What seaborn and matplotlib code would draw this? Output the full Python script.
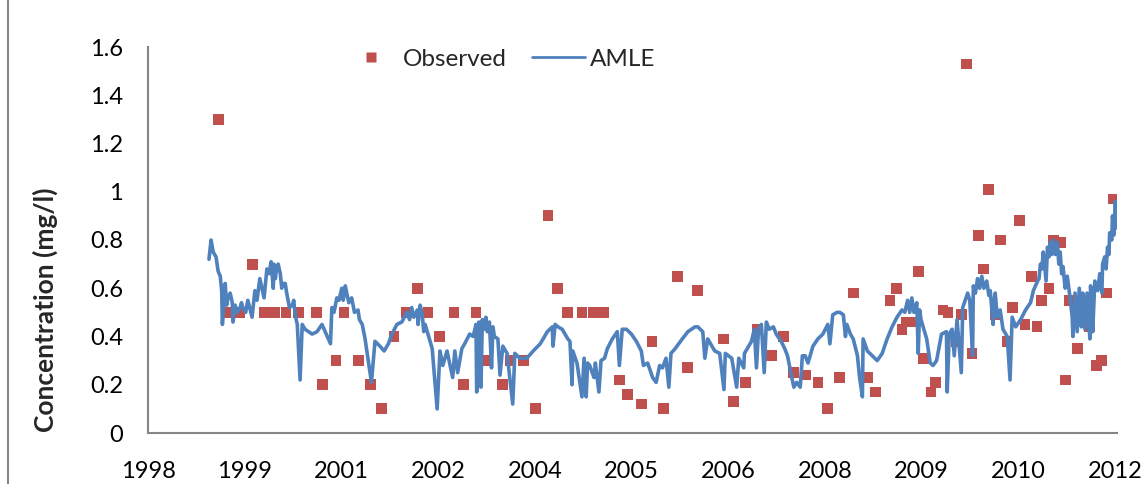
import matplotlib
matplotlib.use("Agg")
import matplotlib.pyplot as plt
from matplotlib.lines import Line2D
import seaborn as sns
import pandas as pd

# Sampling times in decimal years and measured concentrations (mg/l)
obs_year = [
    1999.53, 1999.66, 1999.84, 2000.02, 2000.18, 2000.33, 2000.49, 2000.67, 2000.92, 2001.01,
    2001.20, 2001.31, 2001.52, 2001.69, 2001.84, 2002.02, 2002.20, 2002.35, 2002.50, 2002.66,
    2002.87, 2003.00, 2003.18, 2003.32, 2003.55, 2003.66, 2003.85, 2004.02, 2004.20, 2004.33,
    2004.48, 2004.68, 2004.84, 2004.99, 2005.21, 2005.33, 2005.52, 2005.67, 2005.83, 2006.03,
    2006.17, 2006.32, 2006.68, 2006.83, 2007.00, 2007.16, 2007.36, 2007.53, 2007.67, 2007.85,
    2008.02, 2008.16, 2008.33, 2008.52, 2008.72, 2008.84, 2009.04, 2009.13, 2009.21, 2009.27,
    2009.35, 2009.44, 2009.52, 2009.62, 2009.69, 2009.79, 2009.86, 2009.98, 2010.05, 2010.12,
    2010.20, 2010.29, 2010.36, 2010.44, 2010.53, 2010.61, 2010.70, 2010.78, 2010.87, 2010.95,
    2011.04, 2011.12, 2011.19, 2011.29, 2011.36, 2011.45, 2011.53, 2011.58, 2011.70, 2011.86,
    2011.96, 2012.03, 2012.11, 2012.20,
]
obs_conc = [
    1.30, 0.50, 0.50, 0.70, 0.50, 0.50, 0.50, 0.50, 0.50, 0.20,
    0.30, 0.50, 0.30, 0.20, 0.10, 0.40, 0.50, 0.60, 0.50, 0.40,
    0.50, 0.20, 0.50, 0.30, 0.20, 0.30, 0.30, 0.10, 0.90, 0.60,
    0.50, 0.50, 0.50, 0.50, 0.22, 0.16, 0.12, 0.38, 0.10, 0.65,
    0.27, 0.59, 0.39, 0.13, 0.21, 0.43, 0.32, 0.40, 0.25, 0.24,
    0.21, 0.10, 0.23, 0.58, 0.23, 0.17, 0.55, 0.60, 0.43, 0.46,
    0.46, 0.67, 0.31, 0.17, 0.21, 0.51, 0.50, 0.38, 0.49, 1.53,
    0.33, 0.82, 0.68, 1.01, 0.49, 0.80, 0.38, 0.52, 0.88, 0.45,
    0.65, 0.44, 0.55, 0.60, 0.80, 0.79, 0.22, 0.55, 0.35, 0.44,
    0.28, 0.30, 0.58, 0.97,
]

# AMLE daily estimate (mg/l): main trace with its downward spikes
amle_year = [
    1999.40, 1999.43, 1999.46, 1999.50, 1999.53, 1999.56, 1999.58, 1999.59, 1999.63, 1999.67,
    1999.73, 1999.74, 1999.77, 1999.84, 1999.88, 1999.95, 2000.01, 2000.05, 2000.12, 2000.18,
    2000.22, 2000.28, 2000.31, 2000.32, 2000.36, 2000.41, 2000.45, 2000.50, 2000.58, 2000.62,
    2000.65, 2000.69, 2000.72, 2000.76, 2000.86, 2000.93, 2001.00, 2001.12, 2001.14, 2001.21,
    2001.28, 2001.35, 2001.42, 2001.51, 2001.57, 2001.61, 2001.70, 2001.75, 2001.82, 2001.88,
    2001.94, 2001.99, 2002.06, 2002.13, 2002.20, 2002.27, 2002.35, 2002.36, 2002.42, 2002.46,
    2002.50, 2002.56, 2002.63, 2002.67, 2002.71, 2002.77, 2002.85, 2002.88, 2002.92, 2002.98,
    2003.02, 2003.09, 2003.18, 2003.19, 2003.22, 2003.25, 2003.27, 2003.32, 2003.37, 2003.40,
    2003.42, 2003.49, 2003.52, 2003.56, 2003.62, 2003.70, 2003.73, 2003.80, 2003.90, 2003.99,
    2004.09, 2004.19, 2004.26, 2004.27, 2004.30, 2004.34, 2004.40, 2004.48, 2004.51, 2004.54,
    2004.55, 2004.61, 2004.68, 2004.71, 2004.74, 2004.76, 2004.79, 2004.85, 2004.87, 2004.92,
    2004.95, 2005.00, 2005.04, 2005.11, 2005.18, 2005.21, 2005.25, 2005.31, 2005.38, 2005.45,
    2005.52, 2005.55, 2005.61, 2005.68, 2005.73, 2005.78, 2005.82, 2005.87, 2005.91, 2005.94,
    2006.00, 2006.10, 2006.18, 2006.28, 2006.32, 2006.39, 2006.42, 2006.46, 2006.52, 2006.56,
    2006.63, 2006.69, 2006.71, 2006.80, 2006.87, 2006.90, 2006.97, 2006.98, 2007.08, 2007.12,
    2007.15, 2007.18, 2007.22, 2007.26, 2007.29, 2007.33, 2007.39, 2007.43, 2007.50, 2007.55,
    2007.59, 2007.65, 2007.68, 2007.72, 2007.77, 2007.80, 2007.84, 2007.88, 2007.95, 2008.02,
    2008.09, 2008.16, 2008.19, 2008.23, 2008.29, 2008.33, 2008.38, 2008.41, 2008.43, 2008.48,
    2008.52, 2008.58, 2008.61, 2008.65, 2008.66, 2008.72, 2008.79, 2008.86, 2008.93, 2009.00,
    2009.07, 2009.14, 2009.21, 2009.29, 2009.35, 2009.42, 2009.44, 2009.46, 2009.51, 2009.56,
    2009.61, 2009.65, 2009.70, 2009.77, 2009.84, 2009.85, 2009.88, 2009.92, 2009.95, 2009.99,
    2010.05, 2010.07, 2010.14, 2010.21, 2010.22, 2010.28, 2010.34, 2010.41, 2010.46, 2010.50,
    2010.51, 2010.56, 2010.60, 2010.64, 2010.70, 2010.74, 2010.77, 2010.82, 2010.89, 2010.96,
    2011.03, 2011.07, 2011.13, 2011.17, 2011.21, 2011.25, 2011.27, 2011.31, 2011.35, 2011.41,
    2011.45, 2011.49, 2011.55, 2011.59, 2011.62, 2011.63, 2011.66, 2011.69, 2011.72, 2011.75,
    2011.77, 2011.80, 2011.83, 2011.87, 2011.88, 2011.91, 2011.94, 2012.01, 2012.04, 2012.05,
    2012.08, 2012.12, 2012.15, 2012.18, 2012.19, 2012.23, 2012.25,
]
amle_conc = [
    0.72, 0.80, 0.75, 0.73, 0.67, 0.65, 0.59, 0.45, 0.62, 0.56,
    0.54, 0.46, 0.53, 0.52, 0.52, 0.55, 0.48, 0.59, 0.64, 0.56,
    0.68, 0.71, 0.60, 0.70, 0.69, 0.66, 0.62, 0.58, 0.53, 0.49,
    0.45, 0.22, 0.45, 0.43, 0.41, 0.42, 0.45, 0.37, 0.52, 0.56,
    0.60, 0.58, 0.56, 0.51, 0.45, 0.39, 0.21, 0.38, 0.36, 0.34,
    0.37, 0.41, 0.45, 0.46, 0.50, 0.52, 0.51, 0.45, 0.49, 0.45,
    0.41, 0.35, 0.10, 0.34, 0.28, 0.34, 0.23, 0.34, 0.25, 0.35,
    0.37, 0.41, 0.45, 0.17, 0.46, 0.19, 0.47, 0.48, 0.46, 0.27,
    0.44, 0.39, 0.24, 0.36, 0.33, 0.12, 0.33, 0.31, 0.31, 0.34,
    0.37, 0.42, 0.44, 0.36, 0.45, 0.44, 0.43, 0.39, 0.38, 0.20,
    0.34, 0.29, 0.15, 0.31, 0.15, 0.29, 0.28, 0.23, 0.29, 0.17,
    0.30, 0.31, 0.35, 0.39, 0.42, 0.28, 0.43, 0.43, 0.41, 0.38,
    0.34, 0.28, 0.29, 0.23, 0.21, 0.28, 0.27, 0.31, 0.19, 0.33,
    0.35, 0.39, 0.42, 0.44, 0.44, 0.42, 0.31, 0.39, 0.36, 0.34,
    0.33, 0.18, 0.33, 0.31, 0.19, 0.31, 0.27, 0.33, 0.38, 0.43,
    0.27, 0.43, 0.45, 0.25, 0.46, 0.43, 0.44, 0.41, 0.38, 0.35,
    0.32, 0.23, 0.19, 0.21, 0.19, 0.32, 0.32, 0.29, 0.36, 0.39,
    0.41, 0.45, 0.37, 0.49, 0.50, 0.50, 0.49, 0.40, 0.45, 0.41,
    0.39, 0.32, 0.23, 0.15, 0.39, 0.34, 0.32, 0.30, 0.33, 0.39,
    0.44, 0.48, 0.51, 0.55, 0.56, 0.54, 0.33, 0.51, 0.44, 0.39,
    0.29, 0.28, 0.30, 0.41, 0.42, 0.17, 0.41, 0.43, 0.32, 0.47,
    0.25, 0.52, 0.58, 0.32, 0.61, 0.64, 0.65, 0.63, 0.59, 0.45,
    0.54, 0.48, 0.51, 0.43, 0.40, 0.22, 0.48, 0.44, 0.47, 0.51,
    0.54, 0.59, 0.63, 0.70, 0.75, 0.63, 0.77, 0.79, 0.80, 0.79,
    0.75, 0.69, 0.65, 0.56, 0.48, 0.40, 0.58, 0.42, 0.60, 0.44,
    0.58, 0.43, 0.58, 0.39, 0.61, 0.42, 0.63, 0.66, 0.58, 0.70,
    0.73, 0.77, 0.83, 0.80, 0.90, 0.96, 0.85,
]

# AMLE day-to-day scatter: lower edge of the band around the seasonal peaks
band_year = [
    1999.65, 1999.70, 1999.80, 1999.86, 1999.92,
    2000.08, 2000.15, 2000.25, 2000.34, 2000.38, 2000.43, 2000.48, 2000.54, 2000.60,
    2001.17, 2001.24, 2001.30, 2001.33, 2001.38, 2001.46, 2001.53,
    2002.24, 2002.30, 2002.39, 2002.44,
    2003.14, 2003.29, 2003.34, 2003.44,
    2009.25, 2009.32, 2009.38, 2009.48,
    2010.17, 2010.25, 2010.31, 2010.37, 2010.44, 2010.53,
    2011.15, 2011.19, 2011.29, 2011.33, 2011.38, 2011.43, 2011.47, 2011.52,
    2011.98, 2012.02, 2012.10, 2012.14, 2012.21,
]
band_conc = [
    0.53, 0.58, 0.50, 0.54, 0.50,
    0.55, 0.60, 0.66, 0.64, 0.70, 0.60, 0.62, 0.52, 0.55,
    0.50, 0.55, 0.55, 0.61, 0.54, 0.50, 0.47,
    0.47, 0.48, 0.53, 0.42,
    0.40, 0.43, 0.42, 0.40,
    0.50, 0.50, 0.50, 0.47,
    0.55, 0.58, 0.60, 0.60, 0.57, 0.58,
    0.64, 0.68, 0.73, 0.74, 0.74, 0.70, 0.66, 0.60,
    0.59, 0.62, 0.68, 0.74, 0.82,
]

# Date axis: major unit of 500 days, labelled by year
tick_labels = ["1998", "1999", "2001", "2002", "2004", "2005",
               "2006", "2008", "2009", "2010", "2012"]
y_ticks = [0, 0.2, 0.4, 0.6, 0.8, 1.0, 1.2, 1.4, 1.6]
y_tick_labels = ["0", "0.2", "0.4", "0.6", "0.8", "1", "1.2", "1.4", "1.6"]

AXIS_START = 1998.537
TICK_STEP = 500 / 365.25
AXIS_END = 2012.254

RED = "#C0504D"
BLUE = "#4F81BD"
GREY = "#868686"
FS = 17

obs = pd.DataFrame({"year": obs_year, "conc": obs_conc})
amle = (pd.concat([pd.DataFrame({"year": amle_year, "conc": amle_conc}),
                   pd.DataFrame({"year": band_year, "conc": band_conc})])
        .sort_values("year", kind="stable")
        .reset_index(drop=True))

sns.set_style("white")
plt.rcParams["font.family"] = ["Lato", "DejaVu Sans"]

W, H = 1146, 484
fig = plt.figure(figsize=(W / 100, H / 100), dpi=100)
ax = fig.add_axes([148 / W, 1 - 433 / H, (1117 - 148) / W, (433 - 47) / H])

sns.scatterplot(data=obs, x="year", y="conc", ax=ax, marker="s", s=60,
                color=RED, edgecolor="none", linewidth=0,
                zorder=2, legend=False)
sns.lineplot(data=amle, x="year", y="conc", ax=ax, color=BLUE, linewidth=2.6,
             estimator=None, sort=False, zorder=3, legend=False)

ax.set_xlim(AXIS_START, AXIS_END)
ax.set_ylim(0, 1.6)
ax.set_xticks([AXIS_START + k * TICK_STEP for k in range(len(tick_labels))])
ax.set_xticklabels(tick_labels)
ax.set_yticks(y_ticks)
ax.set_yticklabels(y_tick_labels)
ax.tick_params(axis="both", length=0, labelsize=FS, colors="black")
ax.tick_params(axis="x", pad=20)
ax.tick_params(axis="y", pad=18)

for side in ("top", "right"):
    ax.spines[side].set_visible(False)
for side in ("left", "bottom"):
    ax.spines[side].set_color(GREY)
    ax.spines[side].set_linewidth(1.5)

ax.set_xlabel("")
ax.set_ylabel("Concentration (mg/l)", fontsize=19, fontweight="bold")
ax.yaxis.set_label_coords(-90 / (1117 - 148), (433 - 310) / (433 - 47))

handles = [
    Line2D([], [], linestyle="none", marker="s", markersize=7.5,
           markerfacecolor=RED, markeredgecolor="none"),
    Line2D([], [], color=BLUE, linewidth=2.0),
]
fig.legend(handles, ["Observed", "AMLE"], loc="center left",
           bbox_to_anchor=(345 / W, 1 - 59 / H), ncol=2, frameon=False,
           fontsize=17.5, handlelength=2.18, handletextpad=0.2,
           columnspacing=1.03, borderpad=0, borderaxespad=0)

# chart-area frame edge
fig.add_artist(Line2D([8 / W, 8 / W], [0, 1], color=GREY, linewidth=1.5,
                      transform=fig.transFigure))

fig.savefig("out.png", dpi=100)
